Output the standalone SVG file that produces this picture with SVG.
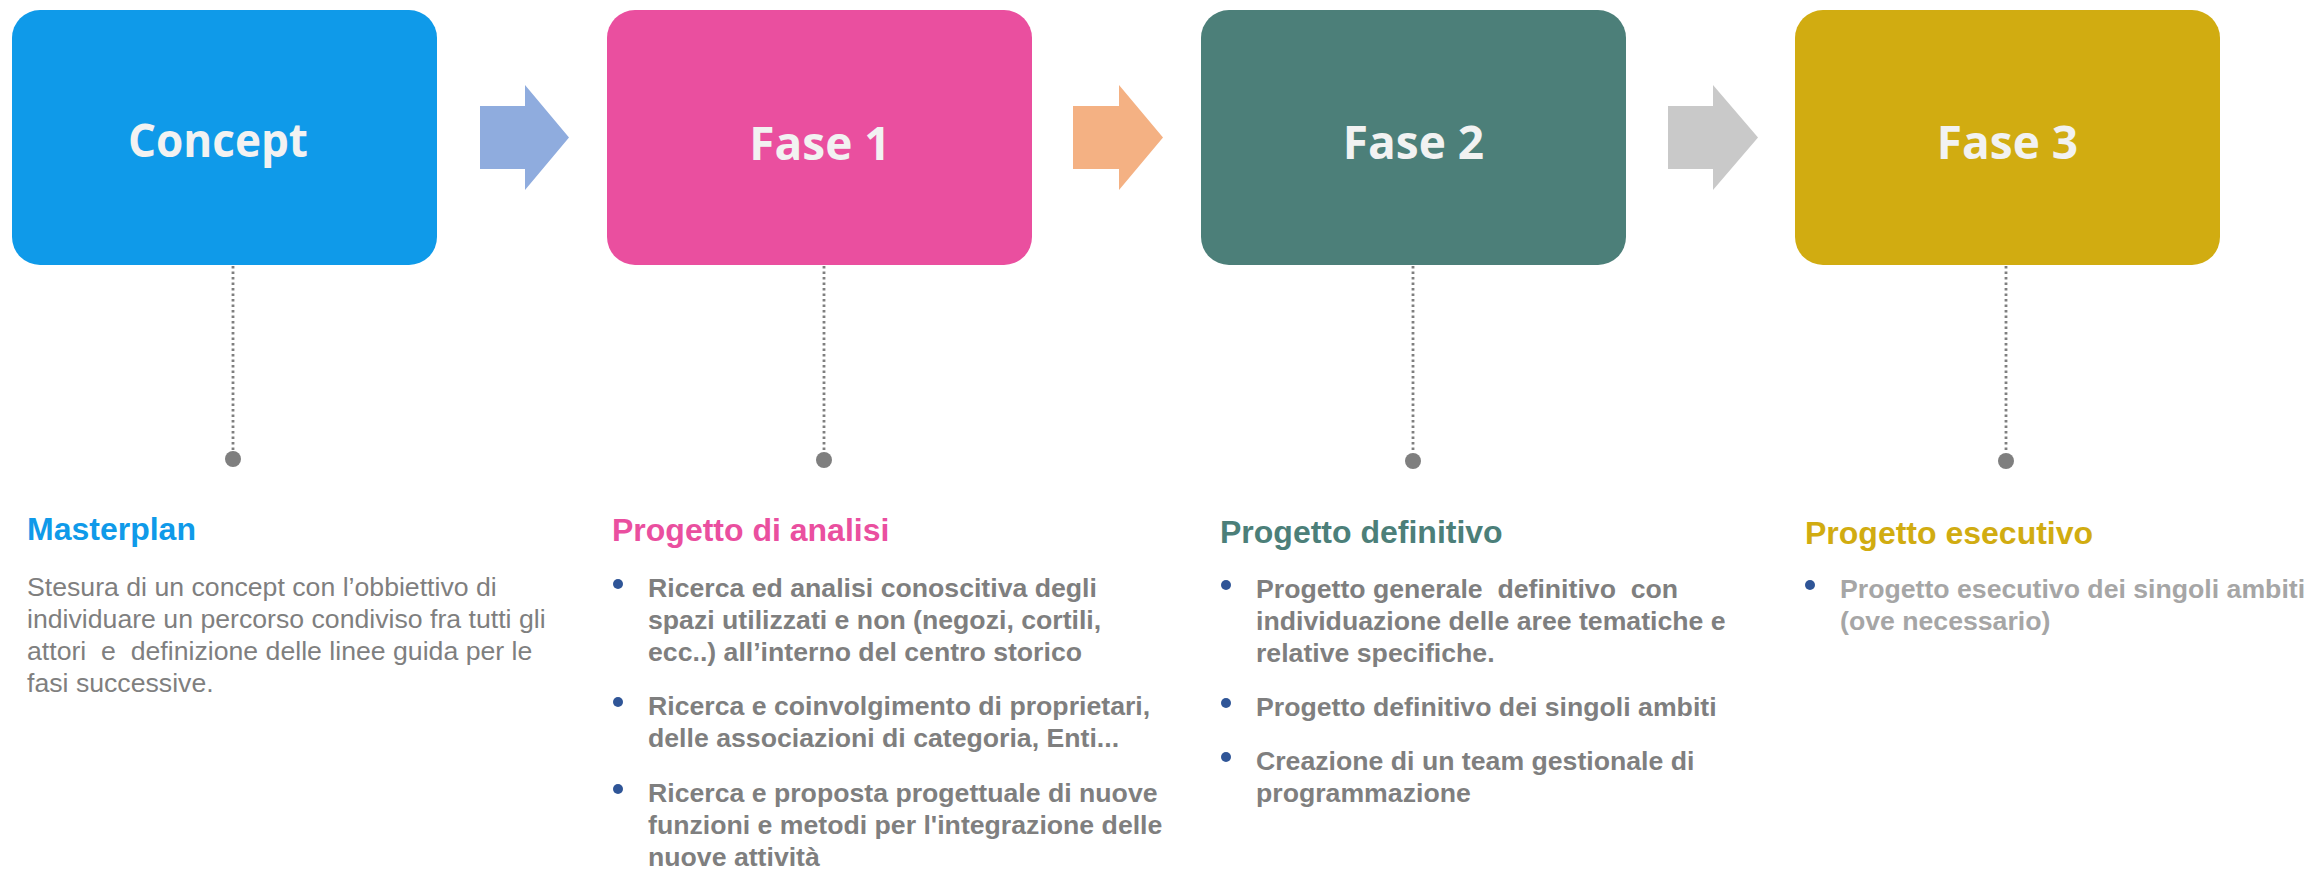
<svg xmlns="http://www.w3.org/2000/svg" width="2308" height="869" viewBox="0 0 2308 869">
<style>
.box{stroke:none}
.lbl{font-family:"Open Sans","Liberation Sans",sans-serif;font-weight:700;font-size:46px;fill:#F2F2F2;text-anchor:middle}
.arrow{stroke:none}
.lead{stroke:#7F7F7F;stroke-width:2.8;stroke-dasharray:2.5 3;fill:none}
.pin{fill:#7F7F7F}
.hd{font-family:"Liberation Sans",Arial,sans-serif;font-weight:700;font-size:32px}
.body{font-family:"Liberation Sans",Arial,sans-serif;font-size:26.67px;fill:#7F7F7F}
.bold{font-weight:700}
.light{fill:#A6A6A6}
.bul{fill:#2F5597}
</style>
<rect width="2308" height="869" fill="#FFFFFF"/>

<g id="connectors">
  <polygon class="arrow" fill="#8FACDE" points="480,106 525,106 525,85 569,137.5 525,190 525,169 480,169"/>
  <polygon class="arrow" fill="#F4B183" points="1073,106 1119,106 1119,85 1163,137.5 1119,190 1119,169 1073,169"/>
  <polygon class="arrow" fill="#C9C9C9" points="1668,106 1713,106 1713,85 1758,137.5 1713,190 1713,169 1668,169"/>
  <line class="lead" x1="233" y1="266" x2="233" y2="452"/>
  <circle class="pin" cx="233" cy="459" r="8"/>
  <line class="lead" x1="824" y1="266" x2="824" y2="452"/>
  <circle class="pin" cx="824" cy="460" r="8"/>
  <line class="lead" x1="1413" y1="266" x2="1413" y2="453"/>
  <circle class="pin" cx="1413" cy="461" r="8"/>
  <line class="lead" x1="2006" y1="266" x2="2006" y2="453"/>
  <circle class="pin" cx="2006" cy="461" r="8"/>
</g>

<g id="concept">
  <rect class="box" x="12" y="10" width="425" height="255" rx="28" ry="28" fill="#0F9AE9"/>
  <text class="lbl" x="218" y="157" textLength="180" lengthAdjust="spacingAndGlyphs">Concept</text>
</g>
<g id="fase1">
  <rect class="box" x="607" y="10" width="425" height="255" rx="28" ry="28" fill="#EA4F9F"/>
  <text class="lbl" x="820" y="160">Fase 1</text>
</g>
<g id="fase2">
  <rect class="box" x="1201" y="10" width="425" height="255" rx="28" ry="28" fill="#4C7F79"/>
  <text class="lbl" x="1413.5" y="159">Fase 2</text>
</g>
<g id="fase3">
  <rect class="box" x="1795" y="10" width="425" height="255" rx="28" ry="28" fill="#D1AC11"/>
  <text class="lbl" x="2007.5" y="159">Fase 3</text>
</g>

<g id="masterplan">
  <text class="hd" x="27" y="540" fill="#0F9AE9">Masterplan</text>
  <text class="body" x="27" y="596">Stesura di un concept con l’obbiettivo di</text>
  <text class="body" x="27" y="628">individuare un percorso condiviso fra tutti gli</text>
  <text class="body" x="27" y="660" xml:space="preserve">attori  e  definizione delle linee guida per le</text>
  <text class="body" x="27" y="692">fasi successive.</text>
</g>

<g id="progetto-analisi">
  <text class="hd" x="612" y="541" fill="#EA4F9F">Progetto di analisi</text>
  <circle class="bul" cx="618" cy="584" r="5"/>
  <text class="body bold" x="648" y="597">Ricerca ed analisi conoscitiva degli</text>
  <text class="body bold" x="648" y="629">spazi utilizzati e non (negozi, cortili,</text>
  <text class="body bold" x="648" y="661">ecc..) all’interno del centro storico</text>
  <circle class="bul" cx="618" cy="702" r="5"/>
  <text class="body bold" x="648" y="715">Ricerca e coinvolgimento di proprietari,</text>
  <text class="body bold" x="648" y="747">delle associazioni di categoria, Enti...</text>
  <circle class="bul" cx="618" cy="789" r="5"/>
  <text class="body bold" x="648" y="802">Ricerca e proposta progettuale di nuove</text>
  <text class="body bold" x="648" y="834">funzioni e metodi per l'integrazione delle</text>
  <text class="body bold" x="648" y="866">nuove attività</text>
</g>

<g id="progetto-definitivo">
  <text class="hd" x="1220" y="543" fill="#4C7F79">Progetto definitivo</text>
  <circle class="bul" cx="1226" cy="585" r="5"/>
  <text class="body bold" x="1256" y="598" xml:space="preserve">Progetto generale  definitivo  con</text>
  <text class="body bold" x="1256" y="630">individuazione delle aree tematiche e</text>
  <text class="body bold" x="1256" y="662">relative specifiche.</text>
  <circle class="bul" cx="1226" cy="703" r="5"/>
  <text class="body bold" x="1256" y="716">Progetto definitivo dei singoli ambiti</text>
  <circle class="bul" cx="1226" cy="757" r="5"/>
  <text class="body bold" x="1256" y="770">Creazione di un team gestionale di</text>
  <text class="body bold" x="1256" y="802">programmazione</text>
</g>

<g id="progetto-esecutivo">
  <text class="hd" x="1805" y="544" fill="#D1AC11">Progetto esecutivo</text>
  <circle class="bul" cx="1810" cy="585" r="5"/>
  <text class="body bold light" x="1840" y="598">Progetto esecutivo dei singoli ambiti</text>
  <text class="body bold light" x="1840" y="630">(ove necessario)</text>
</g>
</svg>
